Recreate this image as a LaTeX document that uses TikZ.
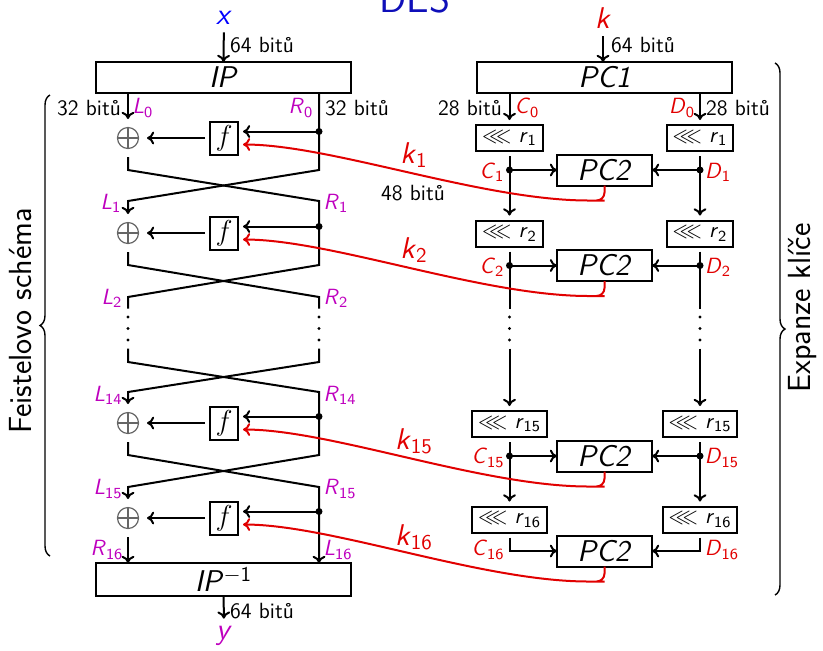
\documentclass[tikz,border=0pt]{standalone}
\usepackage{fontspec}
\usepackage{amssymb}
\usetikzlibrary{calc,decorations.pathreplacing,arrows.meta}
\definecolor{vio}{RGB}{190,0,190}
\definecolor{kred}{RGB}{225,0,0}
\definecolor{xblue}{RGB}{0,0,255}
\definecolor{ttlblue}{RGB}{15,15,185}
\newcommand{\vs}[2]{\textit{#1}\textsubscript{#2}}
\begin{document}
\begin{tikzpicture}[x=0.5pt,y=-0.5pt,line width=1pt,>={To[length=3.6pt,width=6.4pt]},
  lbl/.style={font=\fontsize{11}{13}\selectfont\sffamily,inner sep=0pt},
  big/.style={font=\fontsize{15}{18}\selectfont\sffamily},
  bigbox/.style={draw,big,inner sep=0pt,outer sep=0pt,minimum width=127.5pt,minimum height=15.5pt},
  pcbox/.style={draw,big,inner sep=0pt,outer sep=0pt,minimum width=47.5pt,minimum height=15.5pt},
  fbox/.style={draw,big,inner sep=0pt,outer sep=2.5pt,minimum width=14pt,minimum height=16.5pt},
  rbox/.style={draw,font=\fontsize{11}{13}\selectfont\sffamily,inner xsep=3pt,inner ysep=0pt,outer sep=2.5pt,minimum height=13pt},
  dotn/.style={circle,fill,inner sep=0pt,minimum size=3.5pt},
  xorn/.style={circle,inner sep=0pt,minimum size=18pt,
    path picture={\draw[line width=0.6pt,black!60] (path picture bounding box.center) circle[radius=5.25pt];
      \draw[line width=0.6pt,black!60] ([xshift=-5.25pt]path picture bounding box.center) -- ([xshift=5.25pt]path picture bounding box.center);
      \draw[line width=0.6pt,black!60] ([yshift=-5.25pt]path picture bounding box.center) -- ([yshift=5.25pt]path picture bounding box.center);}},
  vdn/.style={inner sep=0pt,minimum width=4pt,minimum height=19pt,
    path picture={\fill (path picture bounding box.center) circle[radius=0.8pt];
      \fill ([yshift=5.75pt]path picture bounding box.center) circle[radius=0.8pt];
      \fill ([yshift=-5.75pt]path picture bounding box.center) circle[radius=0.8pt];}},
  keyarrow/.style={kred,->,rounded corners=4pt},
  brc/.style={decorate,decoration={brace,amplitude=5pt},line width=0.7pt}
]
\useasboundingbox (0,0) rectangle (823,650);

% title
\node[font=\fontsize{20}{24}\selectfont\sffamily,text=ttlblue,anchor=base] (des) at (415,12) {DES};

% ---------------- Feistel side ----------------
\node[big,text=xblue] (xin) at (224,18) {\textit{x}};
\node[bigbox] (ip) at (223.5,77.5) {\textit{IP}};
\node[lbl] (b64a) at (262,45) {64 bitů};
\draw[->] (xin) -- (ip.north);

% round nodes
\node[xorn] (o1) at (128,138) {};
\node[xorn] (o2) at (128,233) {};
\node[xorn] (o15) at (128,423) {};
\node[xorn] (o16) at (128,518) {};
\node[fbox] (f1) at (224,138) {$f$};
\node[fbox] (f2) at (224,233) {$f$};
\node[fbox] (f15) at (224,423) {$f$};
\node[fbox] (f16) at (224,518) {$f$};
\node[dotn] (d1) at (319,131.5) {};
\node[dotn] (d2) at (319,226.5) {};
\node[dotn] (d15) at (319,416.5) {};
\node[dotn] (d16) at (319,511.5) {};
\node[vdn] (vL) at (128,328.5) {};
\node[vdn] (vR) at (319,328.5) {};
\node[bigbox,minimum height=16.5pt] (ipi) at (223.5,579.5) {\textit{IP}\textsuperscript{\ensuremath{-}1}};
\node[big,text=vio] (yout) at (224,636) {\textit{y}};
\node[lbl] (b64c) at (262,611) {64 bitů};

% labels
\node[lbl] (b32a) at (89,108) {32 bitů};
\node[lbl] (b32b) at (357,108) {32 bitů};
\node[lbl,text=vio] (l0) at (143,108) {\vs{L}{0}};
\node[lbl,text=vio] (r0) at (301,108) {\vs{R}{0}};
\node[lbl,text=vio] (l1) at (111,203) {\vs{L}{1}};
\node[lbl,text=vio] (r1) at (336,203) {\vs{R}{1}};
\node[lbl,text=vio] (l2) at (112,298) {\vs{L}{2}};
\node[lbl,text=vio] (r2) at (336,298) {\vs{R}{2}};
\node[lbl,text=vio] (l14) at (108,395) {\vs{L}{14}};
\node[lbl,text=vio] (r14) at (340,395) {\vs{R}{14}};
\node[lbl,text=vio] (l15) at (108,489) {\vs{L}{15}};
\node[lbl,text=vio] (r15) at (340,489) {\vs{R}{15}};
\node[lbl,text=vio] (r16) at (107,550) {\vs{R}{16}};
\node[lbl,text=vio] (l16) at (338,550) {\vs{L}{16}};

% connectors, left
\draw[->] (ip.south -| o1) -- (o1.north);
\draw[->] (ip.south -| d1) -- (319,170) -- (128,201) -- (o2.north);
\draw (o1.south) -- (128,170) -- (319,201) -- (319,265) -- (128,297) -- (vL.north);
\draw (o2.south) -- (128,265) -- (319,297) -- (vR.north);
\draw[->] (vR.south) -- (319,362) -- (128,392) -- (o15.north);
\draw[->] (vL.south) -- (128,362) -- (319,392) -- (319,455) -- (128,487) -- (o16.north);
\draw[->] (o15.south) -- (128,455) -- (319,487) -- (ipi.north -| d16);
\draw[->] (o16.south) -- (ipi.north -| o16);
\draw[->] (ipi) -- (yout);
\foreach \i in {1,2,15,16}{
  \draw[->] (d\i.center) -- (d\i.center -| f\i.east);
  \draw[->] (f\i.west) -- (o\i.east);
}

% ---------------- key side ----------------
\node[big,text=kred] (kin) at (603,18) {\textit{k}};
\node[bigbox] (pc1) at (604.5,77.5) {\textit{PC1}};
\node[lbl] (b64b) at (643,45) {64 bitů};
\draw[->] (kin) -- (kin |- pc1.north);

\node[rbox] (rc1) at (509.5,138) {$\lll$ \vs{r}{1}};
\node[rbox] (rd1) at (700,138) {$\lll$ \vs{r}{1}};
\node[rbox] (rc2) at (509.5,233.5) {$\lll$ \vs{r}{2}};
\node[rbox] (rd2) at (700,233.5) {$\lll$ \vs{r}{2}};
\node[rbox] (rc15) at (509.5,424) {$\lll$ \vs{r}{15}};
\node[rbox] (rd15) at (700,424) {$\lll$ \vs{r}{15}};
\node[rbox] (rc16) at (509.5,519.5) {$\lll$ \vs{r}{16}};
\node[rbox] (rd16) at (700,519.5) {$\lll$ \vs{r}{16}};

\node[pcbox] (p1) at (604.5,170) {\textit{PC2}};
\node[pcbox] (p2) at (604.5,265.5) {\textit{PC2}};
\node[pcbox] (p15) at (604.5,456) {\textit{PC2}};
\node[pcbox] (p16) at (604.5,551) {\textit{PC2}};

\node[dotn] (c1) at (509.5,170) {};
\node[dotn] (e1) at (700,170) {};
\node[dotn] (c2) at (509.5,265.5) {};
\node[dotn] (e2) at (700,265.5) {};
\node[dotn] (c15) at (509.5,456) {};
\node[dotn] (e15) at (700,456) {};
\node[vdn] (vC) at (509.5,328.5) {};
\node[vdn] (vD) at (700,328.5) {};

\node[lbl] (b28a) at (470,108) {28 bitů};
\node[lbl] (b28b) at (738,108) {28 bitů};
\node[lbl,text=kred] (lc0) at (527,108) {\vs{C}{0}};
\node[lbl,text=kred] (ld0) at (682,108) {\vs{D}{0}};
\node[lbl,text=kred] (lc1) at (492,172) {\vs{C}{1}};
\node[lbl,text=kred] (ld1) at (718,172) {\vs{D}{1}};
\node[lbl,text=kred] (lc2) at (492,267) {\vs{C}{2}};
\node[lbl,text=kred] (ld2) at (718,267) {\vs{D}{2}};
\node[lbl,text=kred] (lc15) at (488,458) {\vs{C}{15}};
\node[lbl,text=kred] (ld15) at (722,458) {\vs{D}{15}};
\node[lbl,text=kred] (lc16) at (488,550) {\vs{C}{16}};
\node[lbl,text=kred] (ld16) at (722,550) {\vs{D}{16}};

\draw[->] (rc1 |- pc1.south) -- (rc1.north);
\draw[->] (rd1 |- pc1.south) -- (rd1.north);
\draw[->] (rc1.south) -- (rc2.north);
\draw[->] (rd1.south) -- (rd2.north);
\draw (rc2.south) -- (vC.north);
\draw (rd2.south) -- (vD.north);
\draw[->] (vC.south) -- (rc15.north);
\draw[->] (vD.south) -- (rd15.north);
\draw[->] (rc15.south) -- (rc16.north);
\draw[->] (rd15.south) -- (rd16.north);
\draw[->] (rc16.south) |- (p16.west);
\draw[->] (rd16.south) |- (p16.east);
\draw[->] (c1.center) -- (p1.west);
\draw[->] (e1.center) -- (p1.east);
\draw[->] (c2.center) -- (p2.west);
\draw[->] (e2.center) -- (p2.east);
\draw[->] (c15.center) -- (p15.west);
\draw[->] (e15.center) -- (p15.east);

% subkeys
\foreach \i in {1,2,15,16}{
  \draw[keyarrow] (p\i.south) -- ++(0,15) -- ++(-8,0)
     .. controls +(-115,0) and +(88,0) .. ($(f\i.east)+(0,6.5)$);
}
\node[big,text=kred] (k1) at (414,155) {\vs{k}{1}};
\node[big,text=kred] (k2) at (414,250) {\vs{k}{2}};
\node[big,text=kred] (k15) at (414,441) {\vs{k}{15}};
\node[big,text=kred] (k16) at (414,537) {\vs{k}{16}};
\node[lbl] (b48) at (413,193) {48 bitů};

% braces
\draw[brc] (50,556) -- (50,95);
\node[font=\fontsize{16}{19}\selectfont\sffamily,rotate=90] (feis) at (21,321) {Feistelovo schéma};
\draw[brc] (775,63) -- (775,595);
\node[font=\fontsize{16}{19}\selectfont\sffamily,rotate=90] (expk) at (803,308) {Expanze klíče};
\end{tikzpicture}
\end{document}
